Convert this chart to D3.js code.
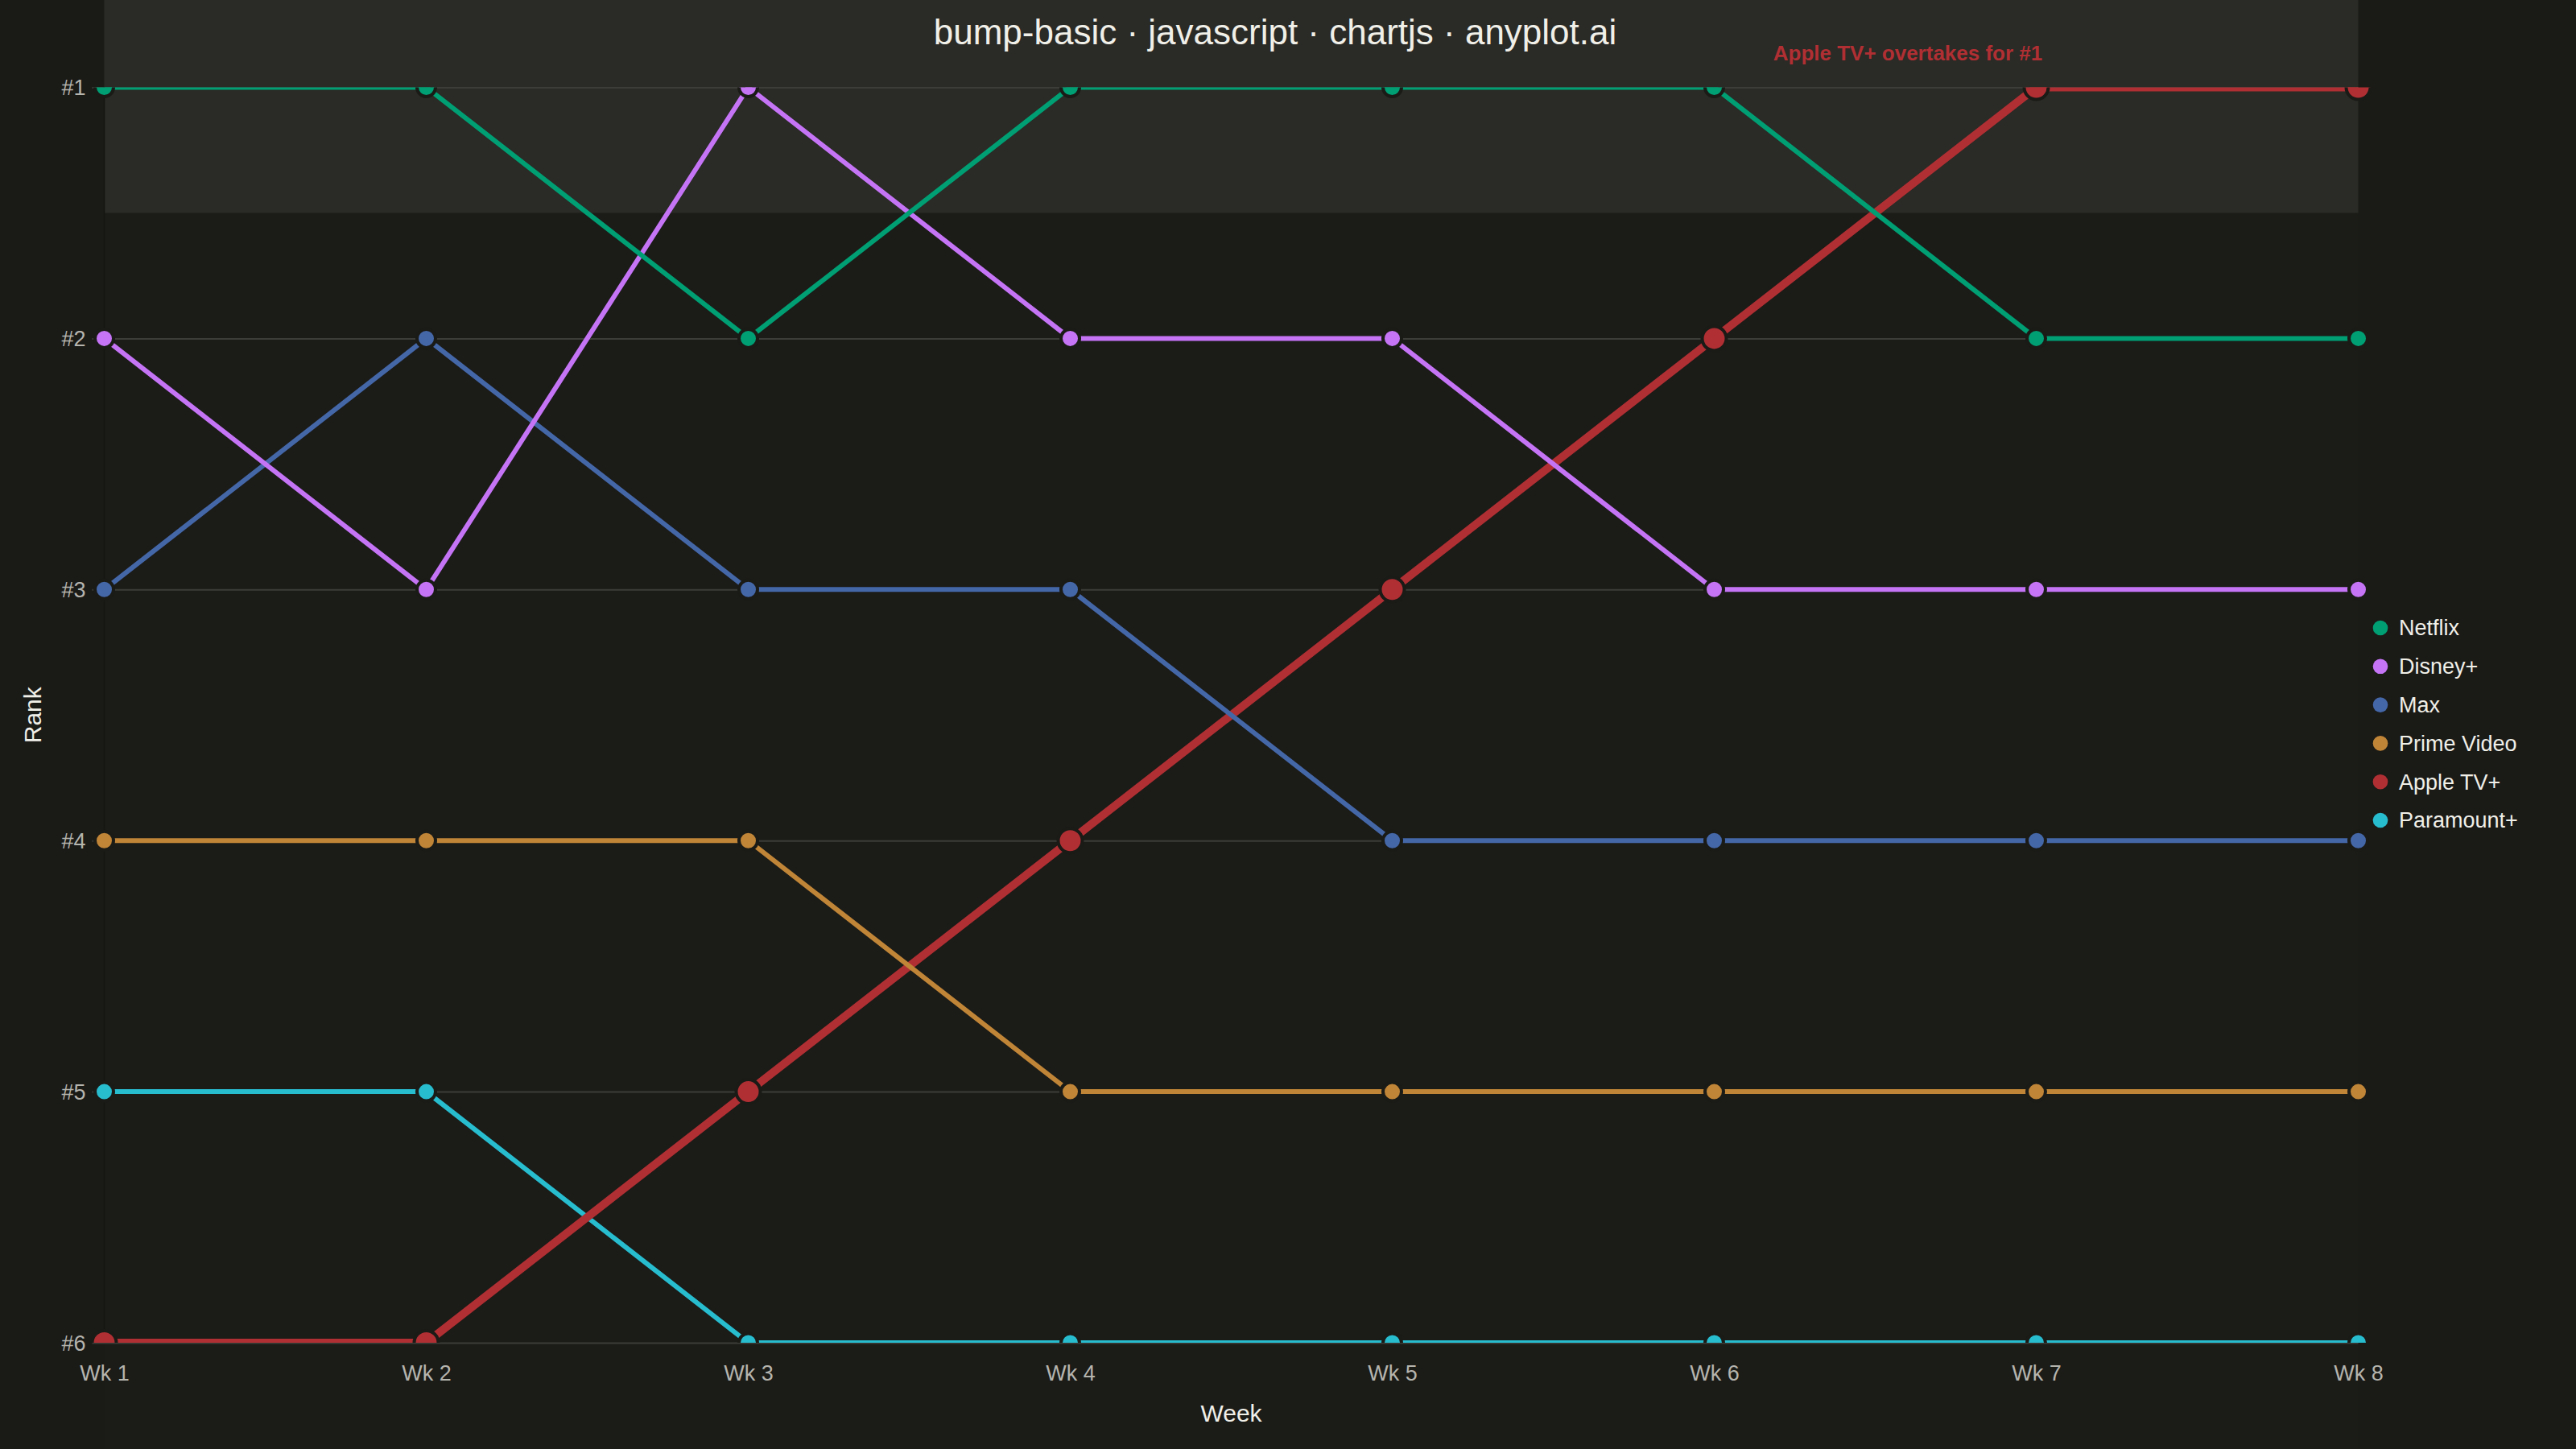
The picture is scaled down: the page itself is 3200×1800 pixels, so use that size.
<!DOCTYPE html>
<html>
<head>
<meta charset="utf-8">
<script src="https://cdn.jsdelivr.net/npm/d3@7"></script>
<style>
  html, body { margin: 0; padding: 0; background: #1a1a17; }
  svg { display: block; }
</style>
</head>
<body>
<svg id="chart" width="3200" height="1800"></svg>
<script>
// ---- data ----
const weeks = ["Wk 1", "Wk 2", "Wk 3", "Wk 4", "Wk 5", "Wk 6", "Wk 7", "Wk 8"];
const rankTicks = [1, 2, 3, 4, 5, 6];
const seriesNames = ["Netflix", "Disney+", "Max", "Prime Video", "Apple TV+", "Paramount+"];
const netflix   = [1, 1, 2, 1, 1, 1, 2, 2];
const disney    = [2, 3, 1, 2, 2, 3, 3, 3];
const max       = [3, 2, 3, 3, 4, 4, 4, 4];
const prime     = [4, 4, 4, 5, 5, 5, 5, 5];
const apple     = [6, 6, 5, 4, 3, 2, 1, 1];
const paramount = [5, 5, 6, 6, 6, 6, 6, 6];
const seriesValues = [netflix, disney, max, prime, apple, paramount];
const seriesColors = ["#009e73", "#c474f5", "#4467a8", "#c08537", "#b02f33", "#28bccf"];
const highlightName = "Apple TV+";
const annotationText = "Apple TV+ overtakes for #1";
const titleText = "bump-basic · javascript · chartjs · anyplot.ai";

// ---- layout ----
const W = 3200, H = 1800;
const plot = { left: 129.5, right: 2929.5, top: 108.5, bottom: 1668 };
const svg = d3.select("#chart");
const font = "'Liberation Sans', Arial, Helvetica, sans-serif";

const x = d3.scalePoint().domain(weeks).range([plot.left, plot.right]);
const y = d3.scaleLinear().domain([1, 6]).range([plot.top, plot.bottom]);

// background
svg.append("rect").attr("width", W).attr("height", H).attr("fill", "#1a1a17");
svg.append("rect")
  .attr("x", plot.left).attr("y", 0)
  .attr("width", plot.right - plot.left).attr("height", H)
  .attr("fill", "#1b1b18");

// highlight band for rank #1 (from top to rank 1.5)
svg.append("rect")
  .attr("x", plot.left).attr("y", 0)
  .attr("width", plot.right - plot.left)
  .attr("height", y(1.5))
  .attr("fill", "#2a2a26");

// y grid + ticks
const yAxis = d3.axisLeft(y)
  .tickValues(rankTicks)
  .tickFormat(d => "#" + d)
  .tickSize(-(plot.right - plot.left) - 15)
  .tickPadding(8);
const gy = svg.append("g")
  .attr("transform", `translate(${plot.right},0)`)
  .call(yAxis);
gy.select(".domain").remove();
gy.selectAll(".tick line")
  .attr("x1", 0)
  .attr("x2", -(plot.right - plot.left) - 15)
  .attr("stroke", "#3c3c38").attr("stroke-width", 2);
gy.selectAll(".tick text")
  .attr("x", -(plot.right - plot.left) - 23)
  .attr("fill", "#b5b4ad")
  .attr("font-family", font)
  .attr("font-size", 27)
  .attr("dy", "0.34em");

// faint y axis line
svg.append("line")
  .attr("x1", plot.left).attr("x2", plot.left)
  .attr("y1", plot.top).attr("y2", plot.bottom)
  .attr("stroke", "#141412").attr("stroke-width", 1.5);

// x axis labels
const xAxis = d3.axisBottom(x).tickSize(0).tickPadding(0);
const gx = svg.append("g")
  .attr("transform", `translate(0,${plot.bottom})`)
  .call(xAxis);
gx.select(".domain").remove();
gx.selectAll(".tick text")
  .attr("y", 47)
  .attr("dy", 0)
  .attr("fill", "#b5b4ad")
  .attr("font-family", font)
  .attr("font-size", 27);

// clip (y only, like chart.js with fixed min/max)
svg.append("defs").append("clipPath").attr("id", "clipY")
  .append("rect")
  .attr("x", 0).attr("y", plot.top)
  .attr("width", W).attr("height", plot.bottom - plot.top);

const series = seriesNames.map((name, i) => ({
  name, color: seriesColors[i], values: seriesValues[i],
  hl: name === highlightName
}));

const line = d3.line()
  .x((d, i) => x(weeks[i]))
  .y(d => y(d));

const g = svg.append("g").attr("clip-path", "url(#clipY)");
// draw in reverse order so first dataset sits on top
series.slice().reverse().forEach(s => {
  const sg = g.append("g");
  sg.append("path")
    .datum(s.values)
    .attr("d", line)
    .attr("fill", "none")
    .attr("stroke", s.color)
    .attr("stroke-width", s.hl ? 10 : 6)
    .attr("stroke-linejoin", "miter");
  sg.selectAll("circle")
    .data(s.values)
    .join("circle")
    .attr("cx", (d, i) => x(weeks[i]))
    .attr("cy", d => y(d))
    .attr("r", s.hl ? 15 : 11.5)
    .attr("fill", s.color)
    .attr("stroke", "#1a1a17")
    .attr("stroke-width", 4);
});

// title
svg.append("text")
  .attr("x", 1584).attr("y", 55)
  .attr("text-anchor", "middle")
  .attr("fill", "#f0efe8")
  .attr("font-family", font)
  .attr("font-size", 44)
  .text(titleText);

// annotation
svg.append("text")
  .attr("x", 2370).attr("y", 75)
  .attr("text-anchor", "middle")
  .attr("fill", "#b02f33")
  .attr("font-family", font)
  .attr("font-weight", "bold")
  .attr("font-size", 26)
  .text(annotationText);

// axis titles
svg.append("text")
  .attr("transform", `translate(51,${(plot.top + plot.bottom) / 2}) rotate(-90)`)
  .attr("text-anchor", "middle")
  .attr("fill", "#f0efe8")
  .attr("font-family", font)
  .attr("font-size", 30)
  .text("Rank");
svg.append("text")
  .attr("x", (plot.left + plot.right) / 2).attr("y", 1766)
  .attr("text-anchor", "middle")
  .attr("fill", "#f0efe8")
  .attr("font-family", font)
  .attr("font-size", 30)
  .text("Week");

// legend
const lg = svg.append("g").attr("transform", "translate(2957,780)");
const items = lg.selectAll("g").data(series).join("g")
  .attr("transform", (d, i) => `translate(0,${i * 47.8})`);
items.append("circle").attr("r", 9.3).attr("fill", d => d.color);
items.append("text")
  .attr("x", 23).attr("dy", "0.35em")
  .attr("fill", "#f0efe8")
  .attr("font-family", font)
  .attr("font-size", 27)
  .text(d => d.name);
</script>
</body>
</html>
